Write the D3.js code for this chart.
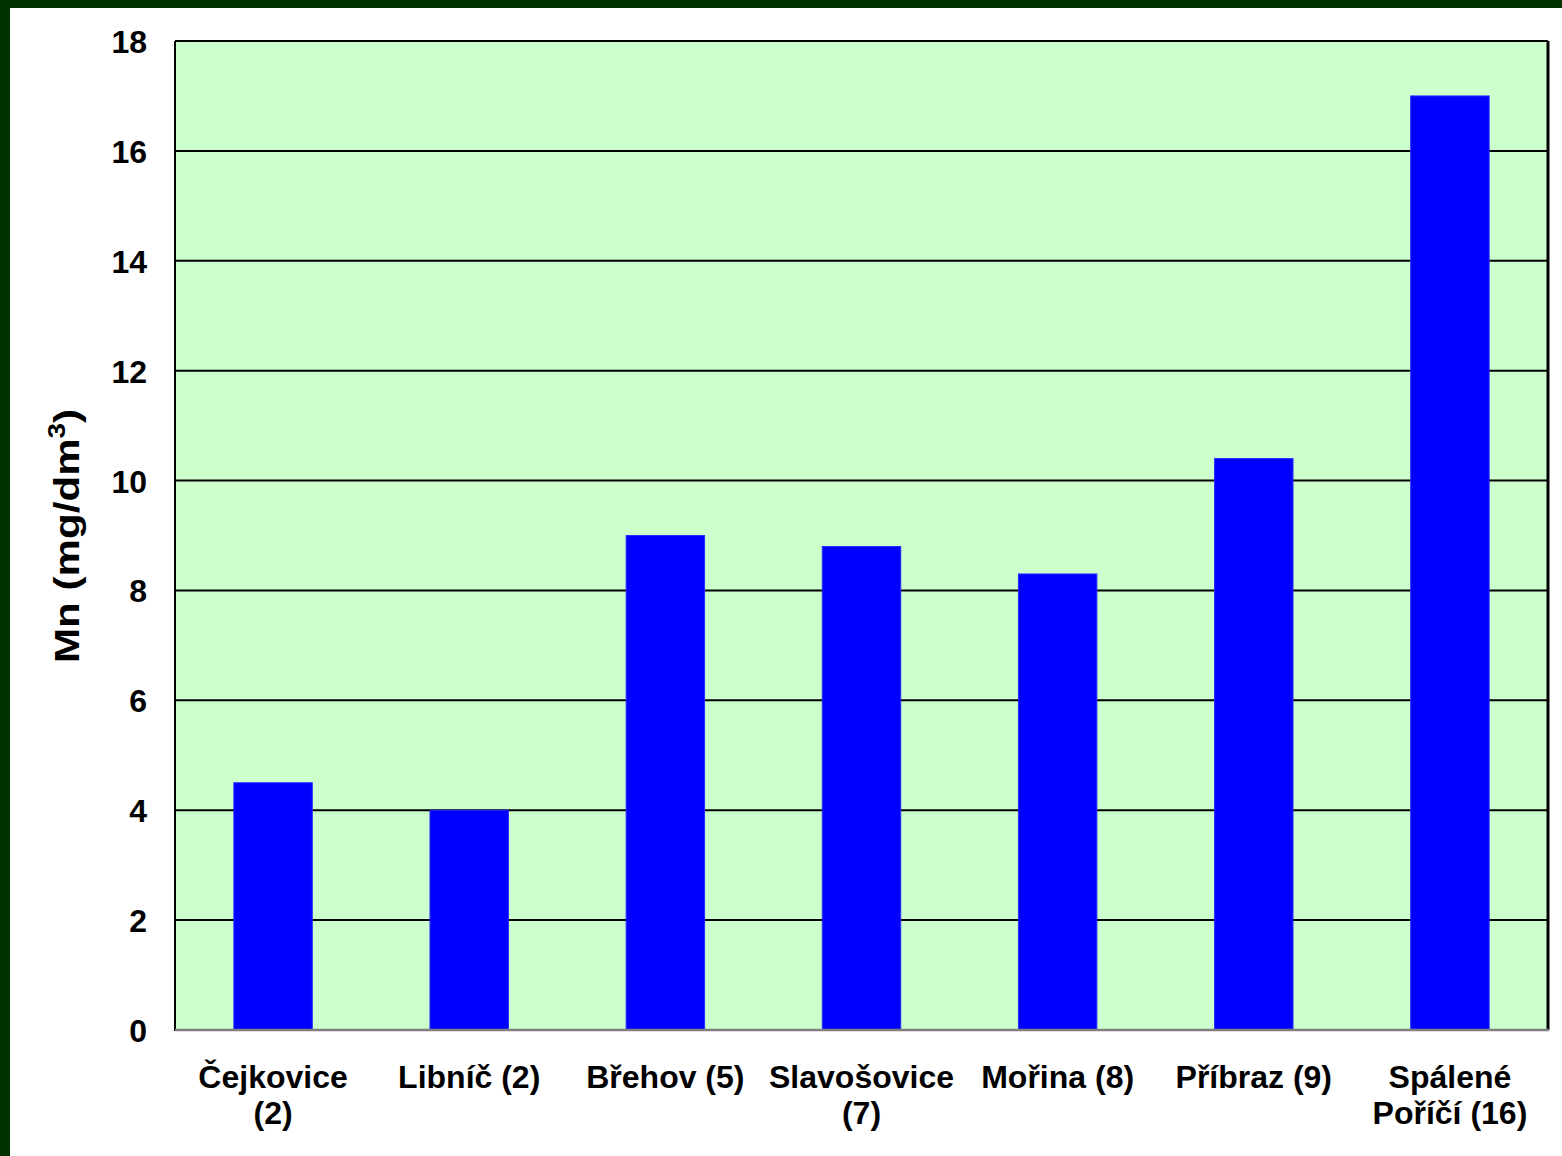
<!DOCTYPE html>
<html>
<head>
<meta charset="utf-8">
<script src="https://cdn.jsdelivr.net/npm/d3@7"></script>
<style>
  html, body { margin: 0; padding: 0; background: #ffffff; }
  svg { display: block; }
  text { font-family: "Liberation Sans", Arial, sans-serif; font-weight: bold; fill: #000; }
</style>
</head>
<body>
<svg id="chart" width="1562" height="1156"></svg>
<script>
// Manganese concentration by locality (number of samples in brackets)
const categories = [
  ["Čejkovice", "(2)"],
  ["Libníč (2)"],
  ["Břehov (5)"],
  ["Slavošovice", "(7)"],
  ["Mořina (8)"],
  ["Příbraz (9)"],
  ["Spálené", "Poříčí (16)"]
];
const mnValues = [4.5, 4.0, 9.0, 8.8, 8.3, 10.4, 17.0];
const yTicks = [0, 2, 4, 6, 8, 10, 12, 14, 16, 18];
const yTitle = "Mn (mg/dm";
const yTitleSup = "3";

const svg = d3.select("#chart");
const W = 1562, H = 1156;

// dark green frame on the top and left edges
svg.append("rect").attr("x", 0).attr("y", 0).attr("width", W).attr("height", 8).attr("fill", "#003300");
svg.append("rect").attr("x", 0).attr("y", 0).attr("width", 10).attr("height", H).attr("fill", "#003300");

const plot = { left: 175, top: 41, right: 1548, bottom: 1030 };

const x = d3.scaleBand()
  .domain(categories.map((d, i) => i))
  .range([plot.left, plot.right])
  .paddingInner(0.6)
  .paddingOuter(0.3);

const y = d3.scaleLinear().domain([0, 18]).range([plot.bottom, plot.top]);

// plot background
svg.append("rect")
  .attr("x", plot.left).attr("y", plot.top)
  .attr("width", plot.right - plot.left).attr("height", plot.bottom - plot.top)
  .attr("fill", "#CCFFCC");

// horizontal gridlines
svg.append("g")
  .selectAll("line")
  .data(yTicks.filter(t => t > 0 && t < 18))
  .join("line")
  .attr("x1", plot.left).attr("x2", plot.right)
  .attr("y1", d => y(d)).attr("y2", d => y(d))
  .attr("stroke", "#000").attr("stroke-width", 2);

// bars
svg.append("g")
  .selectAll("rect")
  .data(mnValues)
  .join("rect")
  .attr("x", (d, i) => x(i))
  .attr("width", x.bandwidth())
  .attr("y", d => y(d))
  .attr("height", d => y(0) - y(d))
  .attr("fill", "#0000FF")
  .attr("stroke", "#2A2AFF")
  .attr("stroke-width", 1);

// plot frame: black top/left/right, gray baseline
svg.append("line").attr("x1", plot.left).attr("x2", plot.right).attr("y1", plot.top).attr("y2", plot.top)
  .attr("stroke", "#000").attr("stroke-width", 2);
svg.append("line").attr("x1", plot.right).attr("x2", plot.right).attr("y1", plot.top).attr("y2", plot.bottom)
  .attr("stroke", "#000").attr("stroke-width", 3);
svg.append("line").attr("x1", plot.left).attr("x2", plot.left).attr("y1", plot.top).attr("y2", plot.bottom + 1)
  .attr("stroke", "#000").attr("stroke-width", 2);
svg.append("line").attr("x1", plot.left).attr("x2", plot.right + 1).attr("y1", plot.bottom).attr("y2", plot.bottom)
  .attr("stroke", "#808080").attr("stroke-width", 2.5);

// y axis tick labels
const yAxis = d3.axisLeft(y).tickValues(yTicks).tickSize(0).tickPadding(28).tickFormat(d3.format("d"));
const gy = svg.append("g").attr("transform", `translate(${plot.left},0)`).call(yAxis);
gy.select(".domain").remove();
gy.selectAll("text")
  .attr("font-size", 32)
  .attr("font-family", "Liberation Sans, Arial, sans-serif")
  .attr("font-weight", "bold")
  .attr("fill", "#000")
  .attr("dy", "0.36em");

// category labels
const gx = svg.append("g");
categories.forEach((lines, i) => {
  const cx = x(i) + x.bandwidth() / 2;
  const t = gx.append("text")
    .attr("x", cx).attr("y", 1088)
    .attr("text-anchor", "middle")
    .attr("font-size", 32);
  lines.forEach((ln, j) => {
    t.append("tspan").attr("x", cx).attr("y", 1088 + j * 36).text(ln);
  });
});

// y axis title with superscript
const title = svg.append("text")
  .attr("transform", "translate(79,536) rotate(-90)")
  .attr("text-anchor", "middle")
  .attr("font-size", 35)
  .attr("textLength", 254)
  .attr("lengthAdjust", "spacingAndGlyphs");
title.append("tspan").text(yTitle);
title.append("tspan").attr("font-size", 23).attr("dy", -14).text(yTitleSup);
title.append("tspan").attr("dy", 14).text(")");
</script>
</body>
</html>
